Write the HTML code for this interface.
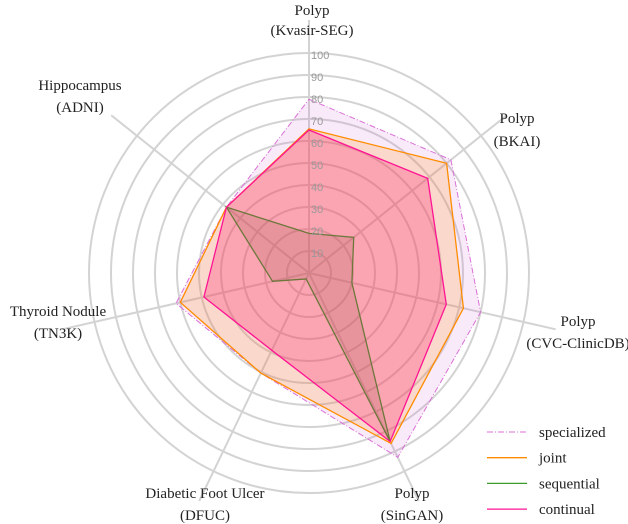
<!DOCTYPE html>
<html><head><meta charset="utf-8"><style>
body{margin:0;background:#fff;}
svg{display:block;font-family:"Liberation Serif",serif;}
</style></head><body>
<svg id="chart" width="628" height="524" viewBox="0 0 628 524"></svg>
<script>
const categories = ["Polyp (Kvasir-SEG)","Polyp (BKAI)","Polyp (CVC-ClinicDB)","Polyp (SinGAN)","Diabetic Foot Ulcer (DFUC)","Thyroid Nodule (TN3K)","Hippocampus (ADNI)"];
const specialized = [79, 82.5, 80, 93, 50.5, 62, 48];
const joint = [65.5, 80, 72, 86, 50.5, 60, 48];
const sequential = [18, 26, 20, 85, 3, 17, 48];
const continual = [65, 69, 64, 85, 39, 49, 48];
const ticks = [10,20,30,40,50,60,70,80,90,100];

const NS="http://www.w3.org/2000/svg";
const svg=document.getElementById('chart');
const cx=309, cy=273, R=220, maxV=100;
function ang(i){return i*2*Math.PI/categories.length;}
function pt(i,v){const r=v/maxV*R;return [cx+r*Math.sin(ang(i)), cy-r*Math.cos(ang(i))];}
function mk(tag,attrs){const e=document.createElementNS(NS,tag);for(const k in attrs)e.setAttribute(k,attrs[k]);svg.appendChild(e);return e;}

ticks.forEach(t=>{
  const c=mk('circle',{cx:cx,cy:cy,r:t/maxV*R,fill:'none',stroke:'#d3d3d3','stroke-width':2});
  
  
});
categories.forEach((c,i)=>{
  const [x,y]=pt(i,115);
  const l=mk('line',{x1:cx,y1:cy,x2:x,y2:y,stroke:'#d3d3d3','stroke-width':2});
  
  
});

const series=[
 {name:'specialized',vals:specialized,color:'#da70d6',fill:'rgba(218,112,214,0.15)',dash:'6,2,1,2',w:1},
 {name:'joint',vals:joint,color:'#ff8c00',fill:'rgba(255,140,0,0.18)',dash:'',w:1.3},
 {name:'sequential',vals:sequential,color:'#3a9a2a',fill:'rgba(120,110,60,0.2)',dash:'',w:1.3},
 {name:'continual',vals:continual,color:'#ff1493',fill:'rgba(255,20,110,0.26)',dash:'',w:1.3}
];
series.forEach(s=>{
  const p=s.vals.map((v,i)=>pt(i,v).join(',')).join(' ');
  const poly=mk('polygon',{points:p,fill:s.fill,stroke:s.color,'stroke-width':s.w,'stroke-dasharray':s.dash,'stroke-linejoin':'miter'});
  
  
});

ticks.forEach(t=>{
  const tx=mk('text',{x:cx+2,y:cy-t/maxV*R+6,'font-family':'Liberation Sans, sans-serif','font-size':11,fill:'#999'});
  tx.textContent=t;
  
  
});

const labelPos=[[312,15,35],[517,123,146],[578,326,348],[412,498,520],[205,498,520],[58,316,338],[80,90,112]];
categories.forEach((c,i)=>{
  const k=c.indexOf(' (');
  const lines=[c.slice(0,k),c.slice(k+1)];
  const [x,y1,y2]=labelPos[i];
  [y1,y2].forEach((y,j)=>{
    const t=mk('text',{x:x,y:y,'text-anchor':'middle','font-size':15,fill:'#222'});
    t.textContent=lines[j];
    
    
  });
});

const g=mk('g',{});


series.forEach((s,i)=>{
  const y=432+i*25.7;
  const l=mk('line',{x1:487,y1:y,x2:527,y2:y,stroke:s.color,'stroke-width':s.w,'stroke-dasharray':s.dash});
  
  
  const t=mk('text',{x:539,y:y+5,'font-size':15,fill:'#222'});
  t.textContent=s.name;
  
  
});
</script>
</body></html>
